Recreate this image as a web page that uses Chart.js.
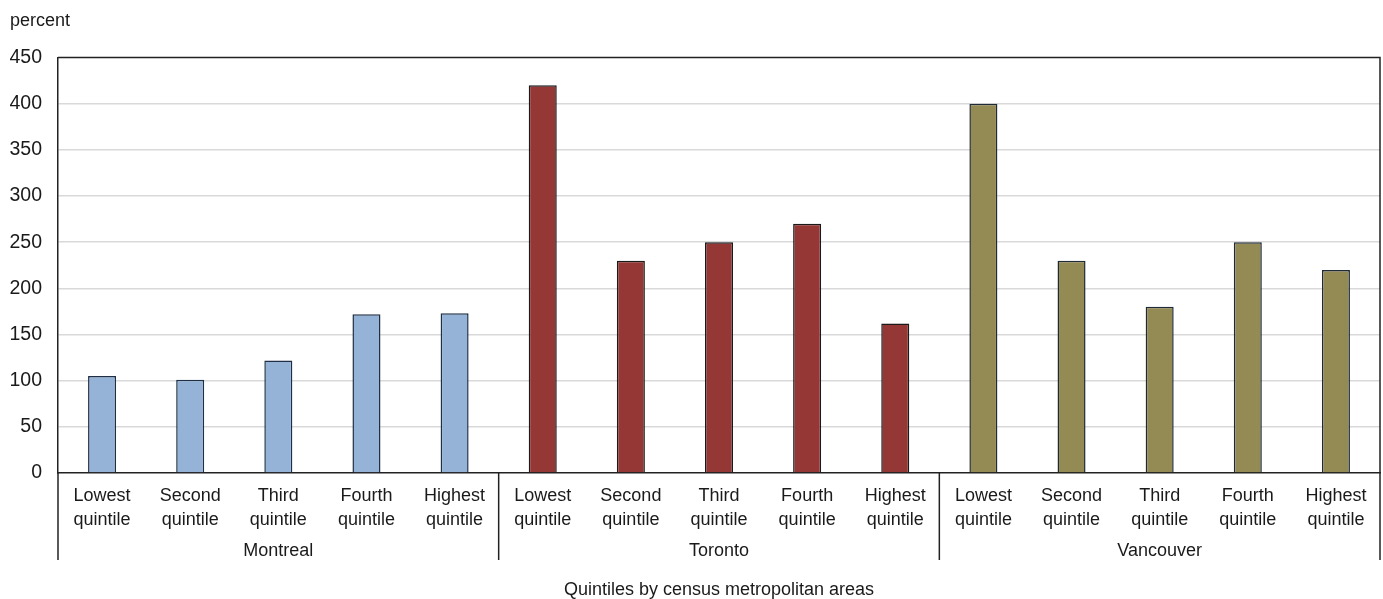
<!DOCTYPE html>
<html>
<head>
<meta charset="utf-8">
<script src="https://cdn.jsdelivr.net/npm/chart.js@4/dist/chart.umd.min.js"></script>
<style>
  html, body { margin: 0; padding: 0; background: #ffffff; }
  #wrap { width: 1383px; height: 599px; position: relative; }
</style>
</head>
<body>
<div id="wrap"><canvas id="chart" width="1383" height="599"></canvas></div>
<script>
// Quintile categories, repeated for each census metropolitan area
const quintiles = [
  ['Lowest', 'quintile'],
  ['Second', 'quintile'],
  ['Third', 'quintile'],
  ['Fourth', 'quintile'],
  ['Highest', 'quintile']
];
const cities = ['Montreal', 'Toronto', 'Vancouver'];

// Values in percent, one per quintile
const montreal  = [105, 101, 122, 172, 173];
const toronto   = [420, 230, 250, 270, 162];
const vancouver = [400, 230, 180, 250, 220];

const yTicks = [0, 50, 100, 150, 200, 250, 300, 350, 400, 450];

const cityColors = ['#95b3d7', '#953735', '#948a54'];
const cityBorders = ['#1f2f45', '#1a1a1a', '#1f2a38'];

const FONT = '"Liberation Sans", Arial, sans-serif';
const TEXT = '#1a1a1a';
const AXIS = '#222222';

const labels = [];
const values = [];
const fills = [];
const borders = [];
[montreal, toronto, vancouver].forEach((series, c) => {
  series.forEach((v, i) => {
    labels.push(quintiles[i]);
    values.push(v);
    fills.push(cityColors[c]);
    borders.push(cityBorders[c]);
  });
});

// Frame around the plot and the separators between city groups
const framePlugin = {
  id: 'frame',
  afterDatasetsDraw(chart) {
    const { ctx, chartArea: a, scales } = chart;
    const x = scales.x;
    const groupBottom = scales.x2.top + 30;
    ctx.save();
    ctx.strokeStyle = AXIS;
    ctx.lineWidth = 1.5;
    ctx.beginPath();
    ctx.moveTo(a.left, a.top);
    ctx.lineTo(a.right, a.top);
    ctx.lineTo(a.right, a.bottom);
    ctx.stroke();
    const step = x.getPixelForValue(1) - x.getPixelForValue(0);
    for (let g = 0; g <= cities.length; g++) {
      const px = g === cities.length
        ? x.getPixelForValue(g * 5 - 1) + step / 2
        : x.getPixelForValue(g * 5) - step / 2;
      ctx.beginPath();
      ctx.moveTo(px, a.bottom);
      ctx.lineTo(px, groupBottom);
      ctx.stroke();
    }
    ctx.restore();
  }
};

new Chart(document.getElementById('chart'), {
  type: 'bar',
  data: {
    labels: labels,
    datasets: [{
      data: values,
      backgroundColor: fills,
      borderColor: borders,
      borderWidth: 1.5,
      borderSkipped: 'bottom',
      categoryPercentage: 1,
      barPercentage: 0.318
    }]
  },
  options: {
    responsive: false,
    animation: false,
    layout: { padding: { left: 10, right: 3, top: 0, bottom: 0 } },
    plugins: {
      legend: { display: false },
      tooltip: { enabled: false },
      title: {
        display: true,
        text: 'percent',
        align: 'start',
        color: TEXT,
        font: { family: FONT, size: 18, weight: 'normal', lineHeight: 1.2 },
        padding: { top: 10, bottom: 26 }
      }
    },
    scales: {
      y: {
        min: 0,
        max: 450,
        afterBuildTicks(scale) { scale.ticks = yTicks.map(v => ({ value: v })); },
        afterFit(scale) { scale.width = 48; },
        ticks: { color: TEXT, font: { family: FONT, size: 19.5 }, padding: 16 },
        grid: {
          drawTicks: false,
          lineWidth: 1.5,
          color: ctx => (ctx.tick && (ctx.tick.value === 0 || ctx.tick.value === 450)) ? 'rgba(0,0,0,0)' : '#d9d9d9'
        },
        border: { display: true, color: AXIS, width: 1.5 }
      },
      x: {
        afterFit(scale) { scale.height = 57; },
        ticks: {
          color: TEXT,
          font: { family: FONT, size: 18, lineHeight: 1.33 },
          padding: 3,
          maxRotation: 0,
          autoSkip: false
        },
        grid: { display: false },
        border: { display: true, color: AXIS, width: 1.5 }
      },
      x2: {
        type: 'category',
        labels: cities,
        position: 'bottom',
        offset: true,
        afterFit(scale) { scale.height = 69; },
        grid: { display: false },
        border: { display: false },
        ticks: { color: TEXT, font: { family: FONT, size: 18, lineHeight: 1.3 }, padding: 1 },
        title: {
          display: true,
          text: 'Quintiles by census metropolitan areas',
          color: TEXT,
          font: { family: FONT, size: 18, lineHeight: 1.2 },
          padding: { top: 0, bottom: -2 }
        }
      }
    }
  },
  plugins: [framePlugin]
});
</script>
</body>
</html>
